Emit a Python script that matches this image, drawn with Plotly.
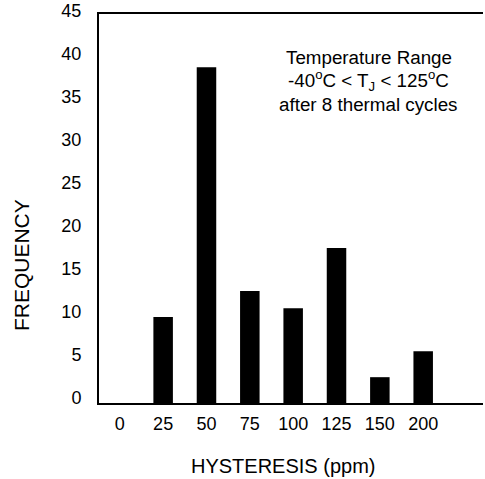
import plotly.graph_objects as go

categories = ["0", "25", "50", "75", "100", "125", "150", "200"]
frequency = [0, 10, 39, 13, 11, 18, 3, 6]
y_ticks = [0, 5, 10, 15, 20, 25, 30, 35, 40, 45]
note_lines = [
    "Temperature Range",
    "-40<sup>o</sup>C &lt; T<sub>J</sub> &lt; 125<sup>o</sup>C",
    "after 8 thermal cycles",
]

FONT = "Liberation Sans, Arial, sans-serif"
pos = list(range(len(categories)))

fig = go.Figure()
fig.add_trace(go.Bar(
    x=pos, y=frequency, width=0.45,
    marker=dict(color="black", line=dict(width=0)),
    showlegend=False, hoverinfo="skip",
))

annots = []
for txt, yy in zip(note_lines, [0.889, 0.828, 0.767]):
    annots.append(dict(text=txt, xref="paper", yref="paper", x=0.703, y=yy,
                       xanchor="center", yanchor="middle", showarrow=False,
                       font=dict(size=18.8)))
annots += [
    dict(text="HYSTERESIS (ppm)", xref="paper", yref="paper", x=0.479, y=-0.162,
         xanchor="center", yanchor="middle", showarrow=False, font=dict(size=20)),
    dict(text="FREQUENCY", xref="paper", yref="paper", x=-0.2, y=0.355, textangle=-90,
         xanchor="center", yanchor="middle", showarrow=False, font=dict(size=21)),
]

fig.update_layout(
    width=485, height=479,
    margin=dict(l=99, r=2, t=14, b=76),
    paper_bgcolor="white", plot_bgcolor="white",
    font=dict(family=FONT, size=18, color="black"),
    xaxis=dict(
        range=[-0.48, 8.38], tickmode="array", tickvals=pos, ticktext=categories,
        showline=True, mirror=True, linecolor="black", linewidth=2,
        showgrid=False, zeroline=False, ticks="", ticklabelstandoff=3,
        tickfont=dict(size=18),
    ),
    yaxis=dict(
        range=[0, 45.2], tickmode="array", tickvals=y_ticks,
        showline=True, linecolor="black", linewidth=2,
        showgrid=False, zeroline=False, ticks="", ticklabelstandoff=12,
        ticklabelshift=-5,
        tickfont=dict(size=18),
    ),
    annotations=annots,
)

fig.write_html("out.html", config={"displayModeBar": False},
               post_script="document.body.style.margin='0';")
